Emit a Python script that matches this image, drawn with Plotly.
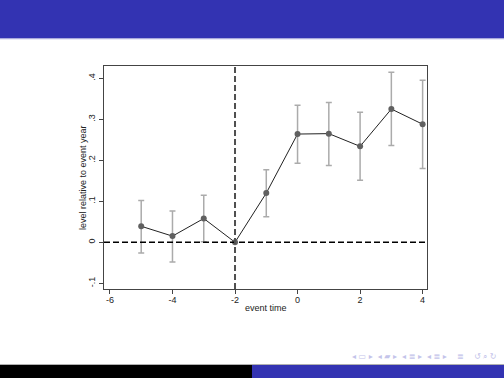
import plotly.graph_objects as go

event_time = [-5, -4, -3, -2, -1, 0, 1, 2, 3, 4]
estimate = [0.039, 0.015, 0.058, 0.0, 0.120, 0.264, 0.265, 0.234, 0.325, 0.288]
ci_lower = [-0.026, -0.048, 0.001, None, 0.062, 0.193, 0.187, 0.151, 0.236, 0.180]
ci_upper = [0.102, 0.076, 0.115, None, 0.177, 0.334, 0.341, 0.317, 0.415, 0.395]

y_tick_vals = [-0.1, 0, 0.1, 0.2, 0.3, 0.4]
y_tick_text = ["-.1", "0", ".1", ".2", ".3", ".4"]
x_tick_vals = [-6, -4, -2, 0, 2, 4]
x_tick_text = ["-6", "-4", "-2", "0", "2", "4"]
x_title = "event time"
y_title = "level relative to event year"

W, H = 504, 378
BLUE = "#3333B2"
FONT = "Liberation Sans, Arial, sans-serif"

ci_x = [x for x, lo in zip(event_time, ci_lower) if lo is not None]
ci_y = [e for e, lo in zip(estimate, ci_lower) if lo is not None]
ci_up = [u - e for e, u, lo in zip(estimate, ci_upper, ci_lower) if lo is not None]
ci_dn = [e - lo for e, lo in zip(estimate, ci_lower) if lo is not None]

fig = go.Figure()
fig.add_trace(go.Scatter(
    x=ci_x, y=ci_y, mode="markers",
    marker=dict(size=1, opacity=0),
    error_y=dict(type="data", symmetric=False, array=ci_up, arrayminus=ci_dn,
                 color="#ababab", thickness=1.5, width=3),
    showlegend=False, hoverinfo="skip"))
fig.add_trace(go.Scatter(
    x=event_time, y=estimate, mode="lines+markers",
    line=dict(color="#222222", width=1),
    marker=dict(color="#606060", size=6),
    showlegend=False))

fig.add_hline(y=0, line=dict(color="black", width=1.6, dash="6px,3px"))
fig.add_vline(x=-2, line=dict(color="#505050", width=2, dash="6px,3px"))

# slide decorations
shapes = [
    dict(type="rect", xref="paper", yref="paper", x0=0, x1=1, y0=1 - 38 / H, y1=1,
         fillcolor=BLUE, line_width=0, layer="below"),
    dict(type="rect", xref="paper", yref="paper", x0=0, x1=1, y0=1 - 39.3 / H, y1=1 - 38 / H,
         fillcolor="#a9a9dc", line_width=0, layer="below"),
    dict(type="rect", xref="paper", yref="paper", x0=0, x1=1, y0=1 - 365 / H, y1=1 - 364 / H,
         fillcolor="#b0b0b0", line_width=0, layer="below"),
    dict(type="rect", xref="paper", yref="paper", x0=0, x1=0.5, y0=0, y1=1 - 365 / H,
         fillcolor="black", line_width=0, layer="below"),
    dict(type="rect", xref="paper", yref="paper", x0=0.5, x1=1, y0=0, y1=1 - 365 / H,
         fillcolor=BLUE, line_width=0, layer="below"),
]
for s in shapes:
    fig.add_shape(**s)

fig.add_annotation(text="◂ ▭ ▸  ◂ ▰ ▸  ◂ ≣ ▸  ◂ ≣ ▸    ≣    ↺ ⌕ ↻",
                   xref="paper", yref="paper", x=498 / W, y=1 - 356 / H,
                   xanchor="right", yanchor="middle", showarrow=False,
                   font=dict(size=8, color="#c4c4ea", family="DejaVu Sans"))

# axis titles
fig.add_annotation(text=x_title, xref="paper", yref="paper",
                   x=265.5 / W, y=1 - 308 / H, xanchor="center", yanchor="middle",
                   showarrow=False, font=dict(size=9, color="#222", family=FONT))
fig.add_annotation(text=y_title, xref="paper", yref="paper", textangle=-90,
                   x=83.5 / W, y=1 - 177.5 / H, xanchor="center", yanchor="middle",
                   showarrow=False, font=dict(size=9, color="#222", family=FONT))

fig.update_layout(
    width=W, height=H,
    margin=dict(l=0, r=0, t=0, b=0),
    paper_bgcolor="white", plot_bgcolor="white",
    font=dict(family=FONT, size=9, color="#222"),
    xaxis=dict(domain=[104 / W, 427 / W], range=[-6.19, 4.14],
               tickvals=x_tick_vals, ticktext=x_tick_text,
               showgrid=False, zeroline=False, showline=True, mirror=True,
               linecolor="#444", linewidth=1, ticks="outside", ticklen=4,
               tickcolor="#444", automargin=False, ticklabelstandoff=-2),
    yaxis=dict(domain=[1 - 289 / H, 1 - 66 / H], range=[-0.114, 0.43],
               tickvals=y_tick_vals, ticktext=y_tick_text, tickangle=-90,
               showgrid=False, zeroline=False, showline=True, mirror=True,
               linecolor="#444", linewidth=1, ticks="outside", ticklen=4,
               tickcolor="#444", automargin=False),
)

fig.write_html("out.html", config={"displayModeBar": False},
               post_script="document.body.style.margin='0';document.body.style.overflow='hidden';")
